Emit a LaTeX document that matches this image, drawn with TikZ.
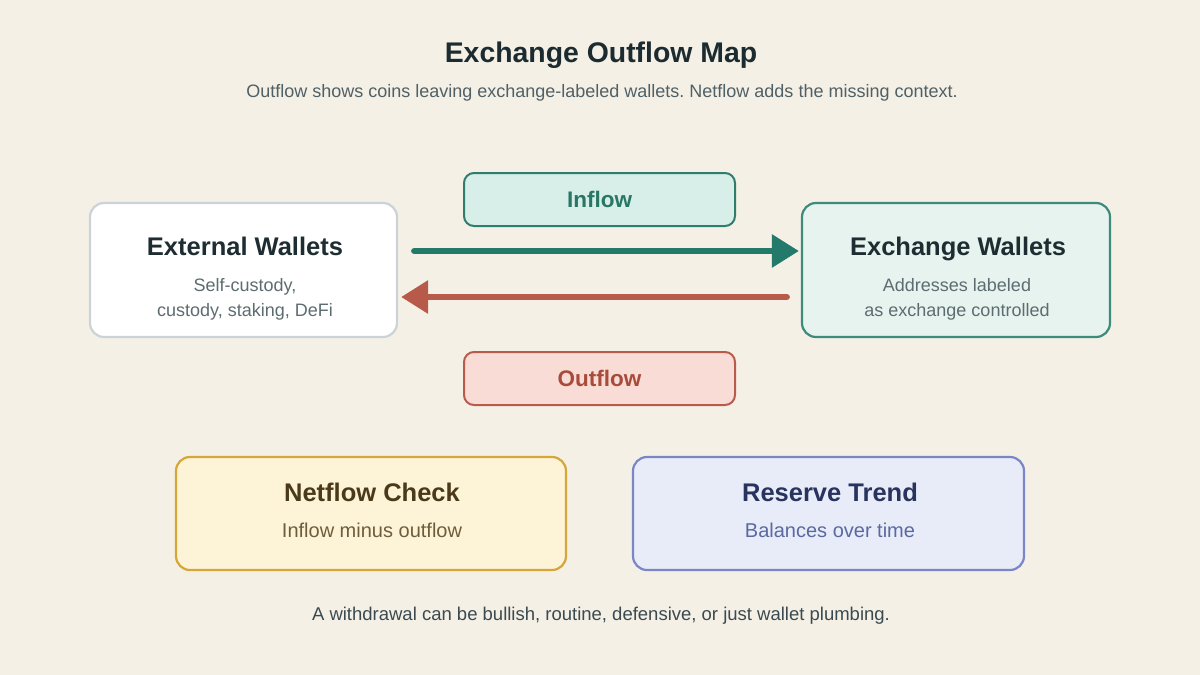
\documentclass[tikz,border=0pt]{standalone}
\usepackage{fontspec}
\setmainfont{Liberation Sans}
\usetikzlibrary{arrows.meta}
\frenchspacing
\definecolor{bg}{HTML}{F5F0E6}
\definecolor{titlec}{HTML}{1C2B30}
\definecolor{subc}{HTML}{4F6066}
\definecolor{extborder}{HTML}{CBD3D8}
\definecolor{exfill}{HTML}{E6F3EE}
\definecolor{exborder}{HTML}{3D8B7B}
\definecolor{exttitle}{HTML}{1E2D31}
\definecolor{extsub}{HTML}{5D6C70}
\definecolor{infill}{HTML}{D7EFE8}
\definecolor{inborder}{HTML}{2F7D6E}
\definecolor{intext}{HTML}{2A7666}
\definecolor{inarrow}{HTML}{237A6A}
\definecolor{outfill}{HTML}{F8DCD5}
\definecolor{outborder}{HTML}{B75C4C}
\definecolor{outtext}{HTML}{A94B3B}
\definecolor{outarrow}{HTML}{B85A4A}
\definecolor{netfill}{HTML}{FDF4D8}
\definecolor{netborder}{HTML}{D6A638}
\definecolor{nettitle}{HTML}{4A3A1A}
\definecolor{netsub}{HTML}{6E5D3C}
\definecolor{resfill}{HTML}{E8EBF8}
\definecolor{resborder}{HTML}{7A86C8}
\definecolor{restitle}{HTML}{28335E}
\definecolor{ressub}{HTML}{5A6AA0}
\definecolor{footc}{HTML}{3A4A50}
\tikzset{
  box/.style={draw, line width=2.2pt, rounded corners=14pt, inner sep=0pt},
  flowbox/.style={draw, line width=2pt, rounded corners=10pt, inner sep=0pt,
    minimum width=271pt, minimum height=53pt},
  btitle/.style={font=\fontsize{25.5}{30}\selectfont\bfseries, text height=18.3pt, text depth=0pt, inner sep=0pt},
  bsub/.style={font=\fontsize{18}{22}\selectfont, text height=13pt, text depth=0pt, inner sep=0pt},
  lsub/.style={font=\fontsize{20}{24}\selectfont, text height=14.5pt, text depth=0pt, inner sep=0pt},
  ftitle/.style={font=\fontsize{22.5}{26}\selectfont\bfseries, text height=16.2pt, text depth=0pt, inner sep=0pt},
  flowarrow/.style={line width=6pt, line cap=round, -{Triangle[length=27pt,width=32pt]}}
}
\begin{document}
\begin{tikzpicture}[x=1pt,y=-1pt]
\useasboundingbox[fill=bg] (0,0) rectangle (1200,675);
\node[font=\fontsize{28.4}{32}\selectfont\bfseries, text=titlec, text height=20.3pt, text depth=0pt, inner sep=0pt] (title) at (601,52) {Exchange Outflow Map};
\node[font=\fontsize{18}{22}\selectfont, text=subc, text height=13pt, text depth=0pt, inner sep=0pt] (subtitle) at (602,91) {Outflow shows coins leaving exchange-labeled wallets. Netflow adds the missing context.};

\node[box, draw=extborder, fill=white, minimum width=307pt, minimum height=134pt] (ext) at (243.5,270) {};
\node[btitle, text=exttitle] (extt) at (245,246) {External Wallets};
\node[bsub, text=extsub] (exts1) at (245,285) {Self-custody,};
\node[bsub, text=extsub] (exts2) at (245,310) {custody, staking, DeFi};

\node[box, draw=exborder, fill=exfill, minimum width=308pt, minimum height=134pt] (exch) at (956,270) {};
\node[btitle, text=exttitle] (excht) at (958,246) {Exchange Wallets};
\node[bsub, text=extsub] (exchs1) at (957,285) {Addresses labeled};
\node[bsub, text=extsub] (exchs2) at (957,310) {as exchange controlled};

\node[flowbox, draw=inborder, fill=infill] (inbox) at (599.5,199.5) {};
\node[ftitle, text=intext] at (inbox.center) {Inflow};
\node[flowbox, draw=outborder, fill=outfill] (outbox) at (599.5,378.5) {};
\node[ftitle, text=outtext] at (outbox.center) {Outflow};

\draw[flowarrow, draw=inarrow, fill=inarrow] ([xshift=16pt,yshift=19pt]ext.east) -- ([xshift=-2pt,yshift=19pt]exch.west);
\draw[flowarrow, draw=outarrow, fill=outarrow] ([xshift=-14pt,yshift=-27pt]exch.west) -- ([xshift=3pt,yshift=-27pt]ext.east);

\node[box, draw=netborder, fill=netfill, minimum width=390pt, minimum height=113pt] (net) at (371,513.5) {};
\node[btitle, text=nettitle] at (372,492) {Netflow Check};
\node[lsub, text=netsub] at (372,530) {Inflow minus outflow};

\node[box, draw=resborder, fill=resfill, minimum width=391pt, minimum height=113pt] (res) at (828.5,513.5) {};
\node[btitle, text=restitle] at (830,492) {Reserve Trend};
\node[lsub, text=ressub] at (830,530) {Balances over time};

\node[font=\fontsize{18.5}{22}\selectfont, text=footc, text height=13.3pt, text depth=0pt, inner sep=0pt] (foot) at (601,614) {A withdrawal can be bullish, routine, defensive, or just wallet plumbing.};
\end{tikzpicture}
\end{document}
